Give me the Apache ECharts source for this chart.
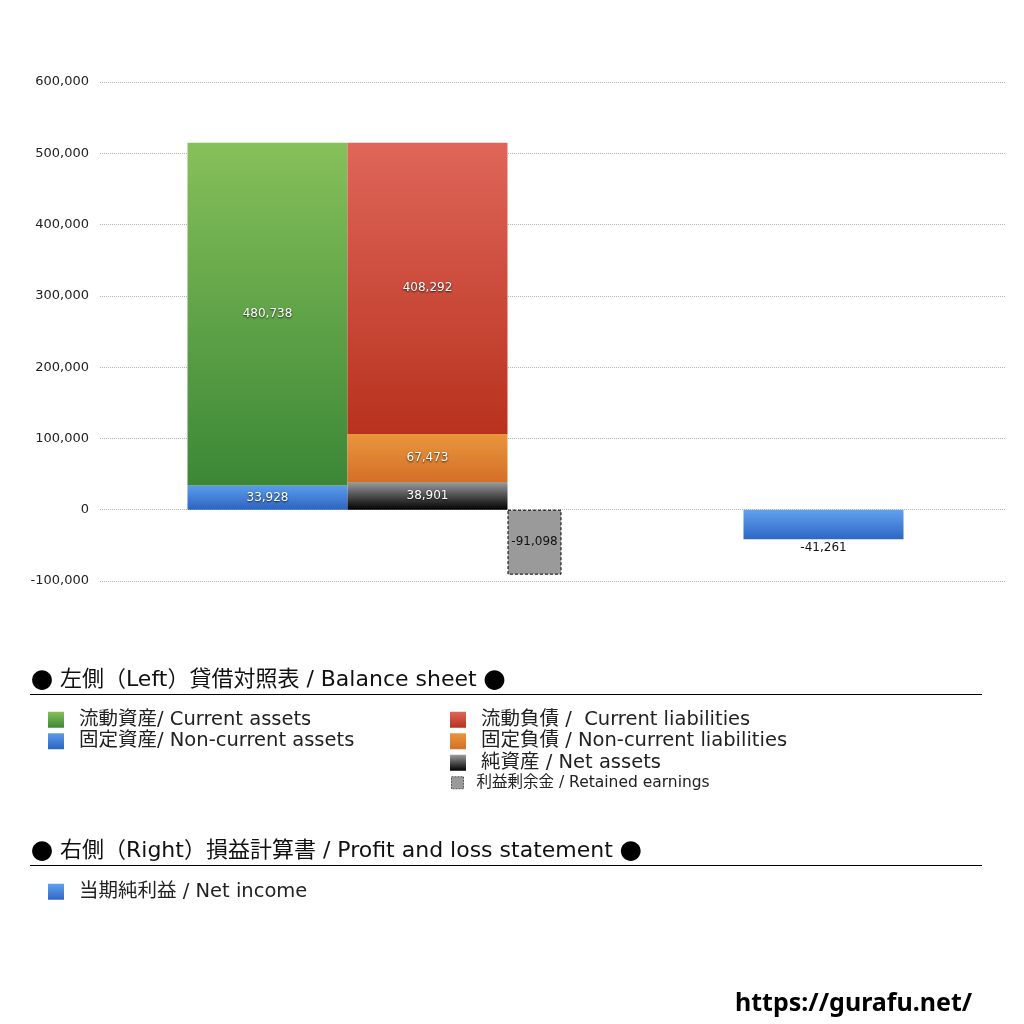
<!DOCTYPE html>
<html>
<head>
<meta charset="utf-8">
<script src="https://cdn.jsdelivr.net/npm/echarts@6/dist/echarts.min.js"></script>
<style>
  html, body { margin: 0; padding: 0; background: #fff; }
  #container { width: 1024px; height: 1024px; }
</style>
</head>
<body>
<div id="container"></div>
<script>
var dom = document.getElementById('container');
var myChart = echarts.init(dom);

// data
var categories = ['貸借対照表', '損益計算書'];
var currentAssets = [480738, '-'];
var nonCurrentAssets = [33928, '-'];
var currentLiabilities = [408292, '-'];
var nonCurrentLiabilities = [67473, '-'];
var netAssets = [38901, '-'];
var retainedEarnings = [-91098, '-'];
var netIncome = ['-', -41261];
var yTicks = [-100000, 0, 100000, 200000, 300000, 400000, 500000, 600000];

var FONT = '"DejaVu Sans", "Noto Sans CJK JP", sans-serif';
var CJK = '"Noto Sans CJK JP", sans-serif';

function grad(top, bottom) {
    return new echarts.graphic.LinearGradient(0, 0, 0, 1, [
        { offset: 0, color: top },
        { offset: 1, color: bottom }
    ]);
}
function fmt(p) { return p.value.toLocaleString('en-US'); }

var inLabel = {
    show: true,
    position: 'inside',
    color: '#fff',
    fontSize: 12,
    fontFamily: FONT,
    textShadowColor: 'rgba(0,0,0,0.8)',
    textShadowBlur: 2,
    textShadowOffsetY: 1,
    formatter: fmt
};

var legendText = { fontSize: 19.5, color: '#222', fontFamily: FONT, lineHeight: 19, padding: [0, 0, 0, 10] };

function heading(y, text) {
    return {
        type: 'text', x: 31, y: y,
        style: {
            text: '{d|●} ' + text + ' {d|●}',
            font: '22px ' + FONT, fill: '#111', verticalAlign: 'middle',
            rich: { d: { fontFamily: CJK, fontSize: 22, fill: '#000' } }
        }
    };
}

option = {
    animation: false,
    grid: [
        { left: 100, right: 19, top: 82, height: 499, outerBoundsMode: 'none' },
        { left: 150, width: 898, top: 82, height: 499, outerBoundsMode: 'none' }
    ],
    xAxis: [
        { gridIndex: 0, type: 'category', data: categories, show: false },
        { gridIndex: 1, type: 'category', data: categories, show: false },
        { gridIndex: 1, type: 'category', data: categories, show: false }
    ],
    yAxis: [
        {
            gridIndex: 0, type: 'value',
            min: yTicks[0], max: yTicks[yTicks.length - 1], interval: 100000,
            axisLine: { show: false }, axisTick: { show: false },
            axisLabel: {
                color: '#222', fontSize: 13, margin: 11, fontFamily: FONT,
                formatter: function (v) { return v.toLocaleString('en-US'); }
            },
            splitLine: { lineStyle: { type: 'dotted', color: '#b5b5b5' } }
        },
        {
            gridIndex: 1, type: 'value', show: false,
            min: yTicks[0], max: yTicks[yTicks.length - 1], interval: 100000,
            splitLine: { show: false }
        }
    ],
    legend: [
        {
            left: 48, top: 710, padding: 0, orient: 'vertical', itemWidth: 16, itemHeight: 16, itemGap: 2,
            icon: 'rect', selectedMode: false, textStyle: legendText,
            data: ['流動資産/ Current assets', '固定資産/ Non-current assets']
        },
        {
            left: 450, top: 710, padding: 0, orient: 'vertical', itemWidth: 16, itemHeight: 16, itemGap: 2,
            icon: 'rect', selectedMode: false, textStyle: legendText,
            data: ['流動負債 /  Current liabilities', '固定負債 / Non-current liabilities', '純資産 / Net assets']
        },
        {
            left: 451, top: 775, padding: 0, orient: 'vertical', itemWidth: 12, itemHeight: 12,
            icon: 'rect', selectedMode: false,
            textStyle: { fontSize: 15.5, color: '#222', fontFamily: FONT, padding: [0, 0, 0, 8] },
            data: [{
                name: '利益剰余金 / Retained earnings',
                itemStyle: { borderColor: '#555', borderWidth: 1, borderType: [2, 1] }
            }]
        },
        {
            left: 48, top: 882, padding: 0, orient: 'vertical', itemWidth: 16, itemHeight: 16,
            icon: 'rect', selectedMode: false, textStyle: legendText,
            data: ['当期純利益 / Net income']
        }
    ],
    graphic: [
        heading(680, '左側（Left）貸借対照表 / Balance sheet'),
        { type: 'line', shape: { x1: 30, y1: 694.5, x2: 982, y2: 694.5 }, style: { stroke: '#000', lineWidth: 1 } },
        heading(851, '右側（Right）損益計算書 / Profit and loss statement'),
        { type: 'line', shape: { x1: 30, y1: 865.5, x2: 982, y2: 865.5 }, style: { stroke: '#000', lineWidth: 1 } },
        { type: 'text', x: 735, y: 1004, style: { text: 'https://gurafu.net/', font: 'bold 25px "Noto Sans", sans-serif', fill: '#000', verticalAlign: 'middle' } }
    ],
    series: [
        {
            name: '固定資産/ Non-current assets', type: 'bar', xAxisIndex: 1, yAxisIndex: 1,
            stack: 'left', barWidth: 160, barGap: '0%', data: nonCurrentAssets,
            itemStyle: { color: grad('#5a9cec', '#2d64c2') }, label: inLabel
        },
        {
            name: '流動資産/ Current assets', type: 'bar', xAxisIndex: 1, yAxisIndex: 1,
            stack: 'left', barWidth: 160, data: currentAssets,
            itemStyle: { color: grad('#86c05a', '#3b8736') }, label: inLabel
        },
        {
            name: '純資産 / Net assets', type: 'bar', xAxisIndex: 1, yAxisIndex: 1,
            stack: 'right', barWidth: 160, data: netAssets,
            itemStyle: { color: grad('#9c9c9c', '#000000') }, label: inLabel
        },
        {
            name: '固定負債 / Non-current liabilities', type: 'bar', xAxisIndex: 1, yAxisIndex: 1,
            stack: 'right', barWidth: 160, data: nonCurrentLiabilities,
            itemStyle: { color: grad('#e9963d', '#d46f28') }, label: inLabel
        },
        {
            name: '流動負債 /  Current liabilities', type: 'bar', xAxisIndex: 1, yAxisIndex: 1,
            stack: 'right', barWidth: 160, data: currentLiabilities,
            itemStyle: { color: grad('#df665a', '#b8321e') }, label: inLabel
        },
        {
            name: '利益剰余金 / Retained earnings', type: 'bar', xAxisIndex: 1, yAxisIndex: 1,
            barWidth: 54, data: retainedEarnings,
            itemStyle: { color: '#9a9a9a', borderColor: '#000', borderWidth: 1, borderType: [3, 2] },
            label: { show: true, position: 'inside', color: '#111', fontSize: 12, fontFamily: FONT, formatter: fmt }
        },
        {
            name: '当期純利益 / Net income', type: 'bar', xAxisIndex: 2, yAxisIndex: 1,
            barWidth: 160, data: netIncome,
            itemStyle: { color: grad('#62a1ef', '#2f67c5') },
            label: { show: true, position: 'bottom', distance: 3, color: '#111', fontSize: 12, fontFamily: FONT, formatter: fmt }
        }
    ]
};
myChart.setOption(option);

window.addEventListener("resize", function () {
    myChart.resize();
});
</script>
</body>
</html>
